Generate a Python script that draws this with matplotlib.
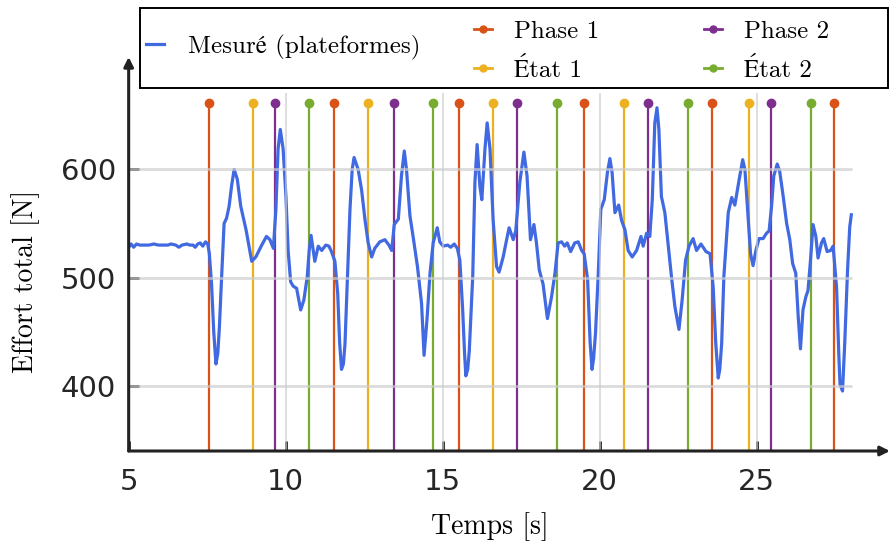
"""Effort total mesuré sur plateformes, avec les instants de phases / états."""

import numpy as np
import matplotlib
matplotlib.use("Agg")
import matplotlib.pyplot as plt
from matplotlib.lines import Line2D
from matplotlib.patches import Rectangle

# Computer Modern pour les libellés, STIX pour les accents manquants
serif = ["cmr10", "STIXGeneral"]

# Signal mesuré (plateformes) : temps [s], effort [N]
temps = [5.00, 5.08, 5.16, 5.25, 5.35, 5.50, 5.65, 5.80, 5.95, 6.10, 6.25, 6.35, 6.50, 6.60,
         6.70, 6.85, 6.95, 7.05, 7.12, 7.20, 7.28, 7.36, 7.45, 7.52,
         7.57, 7.60, 7.64, 7.71, 7.78, 7.84, 7.89, 7.96, 8.04, 8.12, 8.20, 8.28, 8.36, 8.46,
         8.57, 8.74, 8.92, 9.05, 9.24, 9.39, 9.50, 9.61, 9.69, 9.76, 9.83, 9.92, 10.01, 10.08,
         10.16, 10.24, 10.35, 10.48, 10.58, 10.69, 10.75, 10.81, 10.93, 11.04, 11.15, 11.28,
         11.38, 11.46, 11.57, 11.66, 11.72, 11.78, 11.84, 11.89, 11.97, 12.05, 12.12, 12.18,
         12.31, 12.42, 12.53, 12.63, 12.74, 12.84, 13.00, 13.16, 13.29, 13.38, 13.46, 13.59,
         13.69, 13.78, 13.85, 13.96, 14.06, 14.20, 14.33, 14.41, 14.50, 14.60, 14.70, 14.83,
         14.91, 15.02, 15.16, 15.26, 15.37, 15.47, 15.55, 15.64, 15.70, 15.74, 15.80, 15.85,
         15.96, 16.03, 16.10, 16.19, 16.25, 16.35, 16.42, 16.51, 16.61, 16.72, 16.80, 16.93,
         17.04, 17.12, 17.25, 17.33, 17.46, 17.59, 17.69, 17.80, 17.91, 17.99, 18.08, 18.20,
         18.34, 18.47, 18.58, 18.68, 18.79, 18.89, 18.97, 19.08, 19.21, 19.32, 19.43, 19.51,
         19.62, 19.70, 19.76, 19.81, 19.87, 19.96, 20.04, 20.15, 20.25, 20.33, 20.40, 20.49,
         20.61, 20.70, 20.81, 20.91, 21.04, 21.18, 21.32, 21.39, 21.50, 21.60, 21.68, 21.76,
         21.83, 21.89, 21.97, 22.08, 22.19, 22.29, 22.40, 22.53, 22.63, 22.74, 22.85, 22.98,
         23.09, 23.23, 23.39, 23.52, 23.62, 23.70, 23.78, 23.83, 23.89, 23.96, 24.10, 24.21,
         24.31, 24.45, 24.56, 24.63, 24.73, 24.81, 24.89, 24.98, 25.08, 25.21, 25.32, 25.40,
         25.48, 25.55, 25.66, 25.74, 25.85, 25.96, 26.06, 26.15, 26.25, 26.33, 26.40, 26.48,
         26.57, 26.64, 26.72, 26.80, 26.89, 26.96, 27.07, 27.14, 27.25, 27.36, 27.44, 27.55,
         27.62, 27.66, 27.74, 27.81, 27.90, 27.97, 28.02]
effort = [528, 531, 528, 531, 530, 530, 530, 531, 530, 530, 530, 531, 530, 528,
          530, 531, 530, 530, 528, 531, 532, 529, 533, 531,
          522, 510, 494, 450, 420, 430, 454, 500, 550, 555, 566, 585, 600, 591,
          566, 544, 515, 519, 530, 538, 535, 527, 563, 619, 637, 619, 575, 525,
          496, 492, 490, 470, 479, 501, 525, 539, 515, 529, 525, 530,
          529, 524, 515, 485, 440, 415, 420, 438, 501, 563, 600, 611,
          600, 581, 553, 532, 519, 527, 533, 535, 530, 525, 549, 554,
          594, 617, 600, 557, 538, 510, 476, 428, 460, 504, 532, 546,
          533, 529, 530, 528, 531, 527, 516, 470, 430, 409, 415, 432,
          501, 588, 623, 584, 572, 619, 643, 619, 553, 510, 505, 519,
          535, 546, 535, 543, 588, 616, 594, 535, 549, 532, 507, 494,
          462, 482, 504, 532, 533, 529, 532, 524, 532, 533, 525, 522,
          498, 440, 415, 425, 448, 504, 563, 572, 597, 610, 597, 560,
          567, 553, 544, 525, 519, 525, 538, 529, 541, 538, 572, 643,
          657, 637, 575, 560, 529, 501, 473, 452, 479, 516, 529, 536,
          525, 531, 524, 522, 491, 440, 407, 415, 439, 501, 560, 574,
          567, 591, 609, 600, 557, 522, 511, 525, 536, 536, 541, 543,
          566, 594, 605, 598, 575, 550, 535, 513, 504, 463, 434, 470,
          482, 488, 516, 549, 538, 518, 532, 536, 524, 525, 529, 491,
          430, 401, 395, 439, 507, 547, 558]

# Instants des événements [s]
phase1 = [7.57, 11.53, 15.51, 19.52, 23.59, 27.48]
etat1 = [8.97, 12.63, 16.62, 20.78, 24.75]
phase2 = [9.66, 13.45, 17.36, 21.53, 25.45]
etat2 = [10.75, 14.68, 18.64, 22.81, 26.72]

xticks = [5, 10, 15, 20, 25]
yticks = [400, 500, 600]

c_blue = "#4169e1"
c_phase1 = "#d95319"
c_etat1 = "#edb120"
c_phase2 = "#7e2f8e"
c_etat2 = "#77ac30"
c_axis = "#222222"

fig = plt.figure(figsize=(8.91, 5.49), dpi=100)
ax = fig.add_axes([0.1444, 0.1785, 0.8544, 0.7177])
ymin, ymax = 339.5, 704
ax.set_xlim(5, 29.25)
ax.set_ylim(ymin, ymax)

stem_top = 661
events = [(phase1, c_phase1), (etat1, c_etat1), (phase2, c_phase2), (etat2, c_etat2)]
for xs, c in events:
    ax.vlines(xs, ymin, stem_top, color=c, lw=1.6, zorder=2)
    ax.plot(xs, [stem_top] * len(xs), "o", color=c, ms=6, zorder=2, clip_on=False)

ax.plot(temps, effort, color=c_blue, lw=2.3, zorder=3, solid_joinstyle="round")

# grille dessinée par-dessus, semi-transparente
ax.hlines(yticks, 5, 28.05, color="#cccccc", lw=2, alpha=0.7, zorder=4)
ax.vlines(xticks[1:], ymin, 671, color="#cccccc", lw=1.3, alpha=0.7, zorder=4)

# axes avec flèches
for s in ax.spines.values():
    s.set_visible(False)
ax.annotate("", xy=(1.0, 0), xytext=(0, 0), xycoords="axes fraction",
            arrowprops=dict(arrowstyle="-|>", color=c_axis, lw=2.2,
                            mutation_scale=14, shrinkA=0, shrinkB=0), zorder=6)
ax.annotate("", xy=(0, 1.0), xytext=(0, 0), xycoords="axes fraction",
            arrowprops=dict(arrowstyle="-|>", color=c_axis, lw=2.2,
                            mutation_scale=14, shrinkA=0, shrinkB=0), zorder=6)

ax.set_xticks(xticks)
ax.set_yticks(yticks)
ax.tick_params(direction="in", length=7, width=2, color=c_axis, labelsize=21,
               labelcolor="#262626")
ax.tick_params(axis="x", pad=12)
ax.tick_params(axis="y", pad=9)

ax.set_xlabel("Temps [s]", fontsize=20, family=serif, labelpad=12)
ax.set_ylabel("Effort total [N]", fontsize=20, family=serif, labelpad=15)
ax.xaxis.label.set_x(0.4746)
ax.yaxis.label.set_y(0.43)

# légende : cadre commun, deux blocs
fig.patches.append(Rectangle((140 / 891, 1 - 88 / 549), 748 / 891, 80 / 549,
                             transform=fig.transFigure, fill=False, ec="black",
                             lw=1.4, zorder=10))
h_mes = [Line2D([], [], color=c_blue, lw=2.3)]
leg1 = fig.legend(h_mes, ["Mesuré (plateformes)"],
                  loc="center left", bbox_to_anchor=(146 / 891, 1 - 47 / 549),
                  frameon=False, prop=dict(family=serif, size=18), handlelength=0.7,
                  handletextpad=1.0, borderpad=0, borderaxespad=0)
h_ev = [Line2D([], [], color=c, lw=2, marker="o", ms=5)
        for c in (c_phase1, c_etat1, c_phase2, c_etat2)]
labels_ev = ["Phase 1", "État 1", "Phase 2", "État 2"]
leg2 = fig.legend(h_ev, labels_ev, ncol=2, loc="center left",
                  bbox_to_anchor=(474 / 891, 1 - 51 / 549), frameon=False,
                  prop=dict(family=serif, size=18), handlelength=0.7,
                  handletextpad=0.9, columnspacing=4.2, labelspacing=0.6,
                  borderpad=0, borderaxespad=0, numpoints=1)

fig.savefig("out.png", dpi=100)
